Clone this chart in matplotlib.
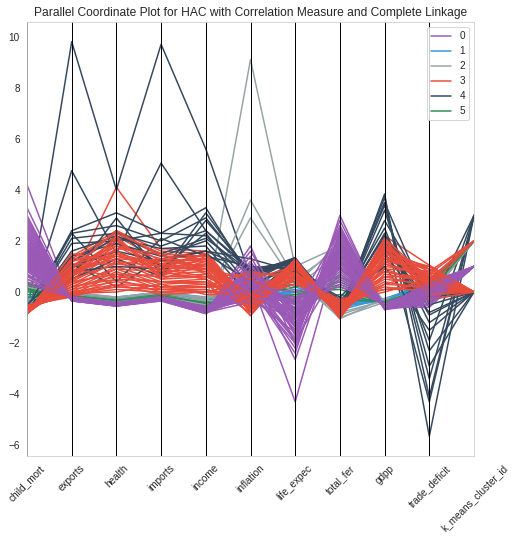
import matplotlib
matplotlib.use("Agg")
import matplotlib.pyplot as plt
import pandas as pd
import seaborn as sns
from pandas.plotting import parallel_coordinates

columns = ["child_mort", "exports", "health", "imports", "income", "inflation",
           "life_expec", "total_fer", "gdpp", "trade_deficit", "k_means_cluster_id"]

# scaled values, one row per country
cluster_0 = [
    [4.2, -0.35, -0.55, -0.3, -0.82, 0.5, -4.3, 1.9, -0.65, -0.1, 1],
    [2.9, -0.3, -0.5, -0.25, -0.8, 0.9, -2.65, 2.4, -0.6, 0.2, 1],
    [2.7, -0.35, -0.55, -0.35, -0.85, 0.2, -2.4, 3.0, -0.7, -0.3, 1],
    [2.5, -0.3, -0.5, -0.3, -0.8, 1.8, -2.06, 2.0, -0.6, 0.0, 1],
    [2.3, -0.25, -0.48, -0.2, -0.75, 0.4, -1.8, 2.2, -0.55, -0.4, 1],
    [2.2, -0.3, -0.5, -0.3, -0.8, -0.2, -1.6, 1.6, -0.65, 0.1, 1],
    [2.1, -0.35, -0.55, -0.35, -0.82, 0.7, -1.5, 1.8, -0.68, -0.5, 1],
    [2.0, -0.3, -0.5, -0.28, -0.78, 1.2, -1.4, 1.4, -0.6, 0.3, 1],
    [1.9, -0.28, -0.52, -0.3, -0.8, 0.1, -1.3, 2.6, -0.62, -0.2, 1],
    [1.8, -0.32, -0.5, -0.25, -0.77, 0.6, -1.2, 1.3, -0.6, 0.2, 1],
    [1.7, -0.3, -0.48, -0.3, -0.75, -0.1, -1.1, 1.7, -0.58, -0.6, 1],
    [1.6, -0.25, -0.5, -0.22, -0.76, 0.3, -1.0, 1.2, -0.57, 0.1, 1],
    [1.5, -0.3, -0.52, -0.3, -0.8, 0.8, -0.9, 1.5, -0.6, -0.3, 1],
    [1.4, -0.28, -0.5, -0.28, -0.72, 0.0, -0.8, 1.1, -0.56, 0.0, 1],
    [1.3, -0.3, -0.47, -0.25, -0.7, 1.0, -0.7, 0.9, -0.55, -0.4, 1],
    [1.2, -0.27, -0.5, -0.3, -0.72, 0.2, -1.9, 1.0, -0.57, 0.3, 1],
    [1.1, -0.25, -0.48, -0.2, -0.68, -0.3, -0.6, 0.8, -0.54, -0.1, 1],
    [1.0, -0.3, -0.5, -0.3, -0.7, 0.5, -1.2, 0.7, -0.56, 0.2, 1],
    [0.9, -0.22, -0.45, -0.22, -0.65, 0.1, -0.5, 0.6, -0.5, -0.2, 1],
    [0.8, -0.28, -0.48, -0.25, -0.68, 0.4, -0.9, 0.5, -0.52, 0.1, 1],
    [0.7, -0.25, -0.46, -0.24, -0.66, -0.2, -0.4, 0.9, -0.5, -0.5, 1],
    [0.6, -0.2, -0.44, -0.2, -0.62, 0.3, -0.3, 0.4, -0.48, 0.0, 1],
    [0.5, -0.24, -0.45, -0.22, -0.6, 0.6, -0.7, 0.3, -0.48, -0.3, 1],
    [0.4, -0.2, -0.42, -0.2, -0.58, 0.0, -0.2, 0.2, -0.45, 0.2, 1],
    [2.4, -0.33, -0.53, -0.33, -0.83, 0.3, -2.2, 2.3, -0.66, -0.1, 1],
    [1.85, -0.3, -0.5, -0.28, -0.8, 1.4, -1.7, 2.0, -0.63, 0.0, 1],
    [1.55, -0.26, -0.49, -0.26, -0.74, 0.5, -1.35, 2.2, -0.6, 0.4, 1],
    [1.25, -0.3, -0.51, -0.3, -0.78, -0.1, -1.05, 1.9, -0.59, -0.2, 1],
    [0.95, -0.27, -0.49, -0.25, -0.73, 0.9, -0.85, 1.6, -0.55, 0.1, 1],
    [3.3, -0.32, -0.54, -0.32, -0.84, 0.0, -2.0, 2.8, -0.67, -0.3, 1],
    [2.6, -0.31, -0.53, -0.29, -0.81, 0.6, -1.55, 1.5, -0.64, 0.2, 1],
    [1.75, -0.29, -0.5, -0.27, -0.79, 0.2, -0.95, 1.2, -0.6, -0.4, 1],
    [1.35, -0.26, -0.49, -0.24, -0.75, 0.7, -0.65, 1.4, -0.57, 0.0, 1],
    [1.05, -0.24, -0.47, -0.23, -0.71, 0.1, -0.45, 1.0, -0.53, 0.3, 1],
    [3.0, -0.33, -0.54, -0.31, -0.83, 0.4, -1.9, 2.5, -0.66, 0.1, 1],
    [2.8, -0.32, -0.52, -0.3, -0.82, 1.1, -1.3, 2.1, -0.65, -0.2, 1],
    [2.15, -0.3, -0.51, -0.29, -0.8, -0.4, -1.0, 1.8, -0.62, 0.3, 1],
    [1.95, -0.28, -0.5, -0.27, -0.79, 0.3, -0.6, 2.4, -0.61, -0.5, 1],
    [1.65, -0.29, -0.5, -0.28, -0.77, 1.6, -1.25, 1.1, -0.6, 0.0, 1],
    [1.45, -0.27, -0.49, -0.26, -0.76, 0.0, -0.35, 1.3, -0.58, 0.2, 1],
    [1.15, -0.26, -0.48, -0.25, -0.73, 0.4, -1.5, 1.7, -0.56, -0.3, 1],
    [0.85, -0.25, -0.47, -0.24, -0.7, -0.3, -0.25, 0.9, -0.53, 0.1, 1],
    [0.65, -0.23, -0.46, -0.22, -0.67, 0.8, -0.8, 1.2, -0.51, -0.1, 1],
    [0.3, -0.2, -0.42, -0.2, -0.6, 0.2, 0.0, 0.6, -0.47, 0.0, 1],
]

cluster_1 = [
    [-0.4, -0.15, -0.3, -0.1, -0.35, -0.2, 0.2, -0.4, -0.35, 0.3, 2],
    [-0.3, -0.1, -0.28, -0.12, -0.3, 0.1, 0.1, -0.3, -0.3, 0.4, 2],
    [-0.2, -0.12, -0.32, -0.15, -0.4, -0.1, 0.0, -0.5, -0.38, 0.5, 2],
    [-0.5, -0.08, -0.25, -0.05, -0.25, 0.0, 0.3, -0.6, -0.28, 0.2, 2],
    [-0.1, -0.18, -0.35, -0.2, -0.45, 0.2, -0.2, -0.2, -0.42, 0.6, 0],
    [-0.35, -0.1, -0.3, -0.1, -0.3, -0.3, 0.1, -0.45, -0.32, 0.1, 2],
    [-0.6, -0.05, -0.2, 0.0, -0.2, 0.05, 0.4, -0.7, -0.25, 0.3, 0],
    [-0.25, -0.14, -0.33, -0.15, -0.38, 0.15, -0.1, -0.35, -0.36, 0.45, 2],
]

cluster_2 = [
    [1.3, -0.15, -0.45, -0.3, -0.6, 9.1, 1.0, 1.8, -0.5, -0.1, 2],
    [0.9, -0.1, -0.4, -0.25, -0.5, 3.6, 0.5, 1.7, -0.45, -0.2, 2],
    [0.5, -0.05, -0.35, -0.2, -0.4, 2.9, 0.3, 1.9, -0.4, -0.05, 2],
    [2.3, -0.3, -0.5, -0.3, -0.7, 1.0, 0.2, 1.5, -0.6, 0.0, 2],
    [2.0, -0.25, -0.48, -0.28, -0.65, 0.6, -0.2, 1.2, -0.55, -0.15, 2],
    [-0.4, -0.1, -0.3, -0.1, -0.3, 0.3, 0.6, -0.9, -0.3, -0.1, 2],
    [-0.5, -0.05, -0.25, -0.05, -0.2, 0.1, 0.7, -1.05, -0.25, 0.0, 2],
    [-0.3, 0.0, -0.2, 0.0, -0.25, 0.5, 0.4, -0.8, -0.35, 0.1, 2],
    [0.2, -0.2, -0.4, -0.2, -0.5, 0.8, 0.0, 0.5, -0.5, -0.2, 2],
    [-0.6, -0.1, -0.3, -0.15, -0.35, -0.2, 0.5, -1.0, -0.4, -0.1, 2],
]

cluster_3 = [
    [-0.83, 0.5, 4.1, 1.7, 1.6, -0.5, 0.9, -0.6, 2.2, 1.05, 0],
    [-0.85, 1.4, 2.4, 1.6, 1.5, -0.6, 1.2, -0.8, 2.0, 0.4, 0],
    [-0.84, 1.2, 2.3, 1.4, 1.4, -0.7, 1.3, -0.9, 1.9, 0.5, 0],
    [-0.86, 1.0, 2.2, 1.2, 1.3, -0.5, 1.2, -0.7, 1.8, 0.3, 0],
    [-0.8, 0.9, 2.0, 1.1, 1.2, -0.8, 1.1, -0.9, 1.7, 0.6, 0],
    [-0.82, 0.8, 1.9, 1.0, 1.1, -0.4, 1.2, -1.0, 1.6, 0.8, 0],
    [-0.78, 0.7, 1.8, 0.9, 1.0, -0.6, 1.0, -0.8, 1.5, 0.9, 0],
    [-0.8, 0.6, 1.6, 0.8, 0.9, -0.93, 1.1, -1.05, 1.4, 0.7, 0],
    [-0.75, 0.5, 1.5, 0.7, 0.8, -0.3, 0.9, -0.6, 1.3, 0.5, 0],
    [-0.77, 0.4, 1.3, 0.6, 0.7, -0.5, 1.0, -0.7, 1.2, 0.4, 0],
    [-0.7, 0.3, 1.2, 0.5, 0.6, -0.2, 0.8, -0.5, 1.1, 0.6, 0],
    [-0.72, 0.2, 1.0, 0.4, 0.5, -0.7, 0.9, -0.9, 1.0, 0.8, 0],
    [-0.68, 0.1, 0.9, 0.3, 0.4, -0.4, 0.7, -0.4, 0.9, 0.3, 0],
    [-0.65, 0.0, 0.8, 0.2, 0.3, -0.1, 0.8, -0.6, 0.8, 0.5, 0],
    [-0.6, -0.1, 0.7, 0.1, 0.2, 0.2, 0.6, -0.3, 0.6, 0.2, 0],
    [-0.55, -0.15, 0.5, 0.0, 0.1, -0.3, 0.5, -0.5, 0.4, 0.1, 0],
    [-0.5, -0.2, 0.3, -0.1, 0.0, 0.1, 0.4, -0.4, 0.2, 0.0, 0],
    [-0.88, 1.3, 1.4, 1.2, 1.0, -0.6, 1.2, -0.9, 1.6, 0.2, 2],
    [-0.83, 1.1, 1.1, 1.3, 0.9, -0.2, 1.1, -0.7, 1.5, 0.7, 2],
    [-0.8, 0.9, 0.6, 0.7, 1.2, -0.5, 1.0, -0.8, 1.3, 0.9, 0],
    [-0.85, 0.7, 2.1, 0.6, 1.4, -0.3, 1.25, -0.75, 1.9, 0.1, 0],
    [-0.79, 0.6, 1.7, 1.5, 0.7, -0.6, 1.05, -1.0, 1.2, 1.0, 0],
    [-0.76, 0.5, 1.1, 0.9, 0.6, 0.0, 0.9, -0.6, 1.1, 0.6, 0],
    [-0.74, 0.3, 0.9, 0.8, 0.5, -0.4, 0.8, -0.8, 0.9, 0.8, 2],
    [-0.71, 0.2, 0.5, 0.4, 0.3, -0.8, 0.7, -0.9, 0.7, 0.4, 0],
    [-0.69, 0.1, 0.4, 0.2, 0.2, 0.3, 0.6, -0.5, 0.5, 0.3, 0],
    [-0.66, 0.0, 0.2, 0.1, 0.1, -0.5, 0.5, -0.7, 0.3, 0.2, 0],
    [-0.6, -0.1, 0.1, 0.0, 0.0, 0.4, 0.4, -0.3, 0.1, 0.1, 0],
    [-0.58, -0.05, 0.0, 0.3, -0.1, -0.1, 0.3, -0.4, 0.0, 0.5, 2],
    [-0.82, 1.5, 1.2, 1.0, 1.5, -0.7, 1.3, -0.95, 2.1, -0.3, 0],
    [-0.87, 0.9, 2.4, 1.4, 1.3, -0.5, 1.2, -0.85, 1.8, 0.6, 0],
    [-0.84, 0.4, 2.2, 0.5, 1.1, -0.6, 1.15, -0.8, 1.7, 0.2, 0],
    [-0.81, 0.8, 1.5, 1.1, 0.8, -0.9, 1.0, -1.0, 1.4, 0.5, 0],
    [-0.86, 1.3, 2.3, 1.5, 1.4, -0.4, 1.25, -0.85, 2.0, 0.3, 0],
    [-0.83, 1.0, 1.8, 1.3, 1.2, -0.7, 1.15, -0.95, 1.7, 0.9, 0],
    [-0.79, 0.7, 1.4, 1.0, 0.9, 0.5, 1.0, -0.7, 1.3, 0.7, 0],
    [-0.73, 0.4, 0.7, 0.6, 0.6, 0.7, 0.7, -0.5, 0.8, 0.4, 2],
    [-0.67, 0.2, 0.6, 0.4, 0.4, -0.6, 0.6, -0.8, 0.6, 0.6, 0],
    [-0.62, 0.0, 0.3, 0.2, 0.2, 0.8, 0.5, -0.4, 0.3, 0.8, 0],
    [-0.57, -0.1, 0.2, 0.1, 0.0, -0.2, 0.3, -0.3, 0.1, 0.3, 0],
    [-0.81, 1.2, 1.6, 0.8, 1.3, -0.8, 1.2, -0.9, 1.8, -0.1, 0],
    [-0.77, 0.8, 1.3, 1.2, 1.0, -0.1, 0.95, -0.65, 1.5, 1.0, 0],
    [-0.84, 0.6, 2.0, 0.9, 1.5, -0.45, 1.2, -0.9, 2.1, 0.5, 0],
]

cluster_4 = [
    [-0.87, 9.8, 4.0, 9.7, 5.6, 0.6, 1.2, -0.9, 3.84, -5.65, 3],
    [-0.86, 4.75, 1.5, 5.05, 2.4, 0.8, 1.2, -0.6, 2.2, -4.3, 3],
    [-0.84, 2.4, 3.1, 2.3, 3.3, 0.5, 1.3, -0.8, 3.7, -4.1, 3],
    [-0.83, 2.3, 2.6, 2.0, 2.9, 0.7, 1.35, -0.9, 3.5, -3.4, 3],
    [-0.85, 2.1, 2.3, 1.8, 2.4, 0.9, 1.2, -0.7, 3.4, -2.9, 0],
    [-0.8, 1.9, 2.0, 2.3, 2.2, 0.6, 1.3, -0.85, 3.2, -2.3, 0],
    [-0.82, 1.6, 2.2, 1.5, 2.1, 0.8, 1.1, -0.5, 2.5, -1.9, 3],
    [-0.78, 1.4, 1.9, 1.4, 2.0, 0.1, 1.2, -0.7, 2.3, -1.2, 0],
    [-0.8, 1.2, 2.1, 1.7, 1.8, -0.2, 1.25, -0.8, 2.0, -0.9, 0],
    [-0.75, 1.0, 1.6, 1.2, 1.6, 0.9, 1.1, -0.6, 1.9, -0.6, 3],
    [-0.7, 0.9, 2.4, 1.0, 1.5, 0.4, 1.3, -0.9, 1.7, -0.3, 0],
    [-0.82, 0.8, 1.0, 0.9, 2.3, 0.2, 1.2, -0.5, 2.2, 0.0, 0],
    [-0.6, 2.3, 0.4, 2.1, 1.4, 1.0, 0.9, -0.3, 1.0, -1.5, 0],
    [-0.5, 1.1, 0.2, 1.3, 1.6, 1.3, 0.8, -0.2, 1.5, -0.8, 0],
    [-0.84, 0.6, 2.9, 0.7, 3.1, 0.7, 1.2, -0.8, 2.8, -0.2, 0],
    [-0.8, 0.5, 1.3, 0.6, 2.8, 0.8, 1.3, -0.7, 3.5, -0.5, 0],
]

cluster_5 = [
    [0.35, -0.25, -0.4, -0.25, -0.55, 0.2, -0.3, 0.9, -0.48, 0.1, 2],
    [0.3, -0.2, -0.38, -0.2, -0.5, 0.5, -0.5, 0.7, -0.45, -0.1, 2],
    [0.25, -0.22, -0.42, -0.22, -0.52, -0.1, -0.7, 0.5, -0.47, 0.2, 2],
    [0.2, -0.18, -0.36, -0.18, -0.48, 0.3, -0.2, 0.3, -0.44, 0.0, 2],
    [0.15, -0.2, -0.4, -0.2, -0.5, 0.0, -0.8, 0.6, -0.46, 0.3, 2],
    [0.1, -0.15, -0.35, -0.15, -0.45, 0.6, 0.0, 0.1, -0.42, -0.2, 2],
    [0.05, -0.17, -0.37, -0.17, -0.47, -0.2, 0.2, 0.4, -0.44, 0.1, 2],
    [0.0, -0.12, -0.33, -0.12, -0.42, 0.4, -0.4, -0.1, -0.4, -0.1, 2],
    [-0.1, -0.1, -0.3, -0.1, -0.4, 0.1, 0.3, -0.3, -0.38, 0.2, 2],
    [-0.2, -0.14, -0.32, -0.14, -0.43, -0.3, -0.1, 0.2, -0.41, 0.0, 2],
]

colors = ["#9b59b6", "#3498db", "#95a5a6", "#e74c3c", "#34495e", "#2e8b57"]

# mix the clusters the way rows come in the original table
groups = [cluster_0, cluster_1, cluster_2, cluster_3, cluster_4, cluster_5]
rows = []
labels = []
for i in range(max(len(g) for g in groups)):
    for k, g in enumerate(groups):
        if i < len(g):
            rows.append(g[i])
            labels.append(k)

df = pd.DataFrame(rows, columns=columns)
df["cluster"] = labels

sns.set_style("whitegrid")
plt.rcParams["font.family"] = "sans-serif"
plt.rcParams["font.sans-serif"] = ["Liberation Sans"]

fig = plt.figure(figsize=(515 / 72, 540 / 72), dpi=72)
ax = fig.add_axes([27 / 515, 84 / 540, 447 / 515, 434 / 540])
parallel_coordinates(df, "cluster", color=colors, ax=ax)
plt.xticks(rotation=45)
plt.title("Parallel Coordinate Plot for HAC with Correlation Measure and Complete Linkage")

fig.savefig("out.png", dpi=72)
